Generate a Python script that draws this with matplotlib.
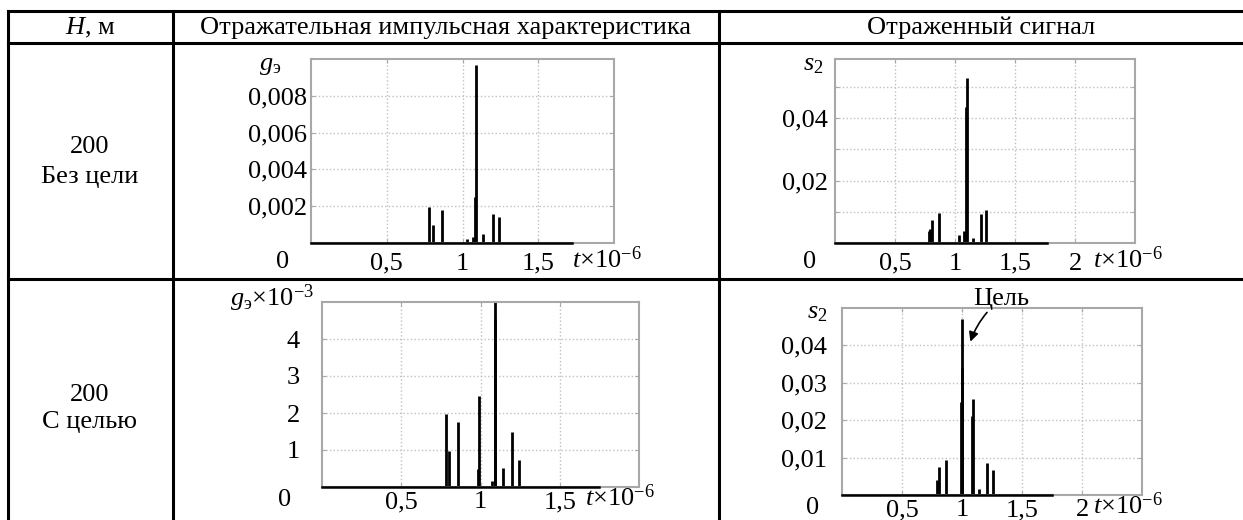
import matplotlib
matplotlib.use('Agg')
import matplotlib.pyplot as plt

plt.rcParams['font.family'] = ['Liberation Serif', 'DejaVu Serif']
plt.rcParams['font.size'] = 19
plt.rcParams['mathtext.fontset'] = 'custom'
plt.rcParams['mathtext.rm'] = 'Liberation Serif'
plt.rcParams['mathtext.it'] = 'Liberation Serif:italic'

# table texts
headers = ['$H$, м', 'Отражательная импульсная характеристика', 'Отраженный сигнал']
row_h = ['200', '200']
row_case = ['Без цели', 'С целью']

# top left: impulse response, no target (t in us)
t_g1 = [0.78, 0.805, 0.864, 1.03, 1.07, 1.082, 1.09, 1.135, 1.20, 1.24]
a_g1 = [0.00195, 0.00097, 0.0018, 0.0002, 0.0003, 0.0025, 0.0097, 0.0005, 0.00155, 0.0014]
end_g1 = 1.72

# top right: reflected signal, no target
t_s1 = [0.78, 0.795, 0.81, 0.87, 1.03, 1.075, 1.095, 1.10, 1.15, 1.215, 1.26]
a_s1 = [0.0038, 0.0045, 0.0073, 0.0096, 0.0025, 0.004, 0.0435, 0.053, 0.0015, 0.0093, 0.0105]
end_s1 = 1.77

# bottom left: impulse response with target (x1e-3)
t_g2 = [0.785, 0.80, 0.86, 0.985, 0.99, 1.075, 1.09, 1.092, 1.14, 1.20, 1.245]
a_g2 = [1.97, 0.97, 1.76, 0.5, 2.46, 0.15, 4.54, 5.0, 0.52, 1.48, 0.73]
end_g2 = 1.75

# bottom right: reflected signal with target
t_s2 = [0.79, 0.80, 0.81, 0.87, 0.995, 1.0, 1.003, 1.085, 1.09, 1.14, 1.21, 1.26]
a_s2 = [0.004, 0.003, 0.0075, 0.0093, 0.025, 0.047, 0.034, 0.021, 0.0258, 0.0015, 0.0085, 0.0067]
end_s2 = 1.75

W, H = 1243, 520
fig = plt.figure(figsize=(W / 100, H / 100), dpi=100)


def fx(x):
    return x / W


def fy(y):
    return 1 - y / H


# table grid
lw_tab = 2.2
for y in [11, 43, 279]:
    fig.add_artist(plt.Line2D([fx(8), 1], [fy(y), fy(y)], color='k', lw=lw_tab))
for x in [8, 173, 719]:
    fig.add_artist(plt.Line2D([fx(x), fx(x)], [fy(11), 0], color='k', lw=lw_tab))

fig.text(fx(90), fy(28), headers[0], ha='center', va='center')
fig.text(fx(446), fy(28), headers[1], ha='center', va='center')
fig.text(fx(981), fy(28), headers[2], ha='center', va='center')
fig.text(fx(90), fy(147), row_h[0], ha='center', va='center')
fig.text(fx(90), fy(177), row_case[0], ha='center', va='center')
fig.text(fx(90), fy(395), row_h[1], ha='center', va='center')
fig.text(fx(90), fy(422), row_case[1], ha='center', va='center')


def make_ax(l, r, t, b):
    return fig.add_axes([fx(l), fy(b), (r - l) / W, (b - t) / H])


def draw(ax, tt, aa, t_end, xmax, ymax, xticks, xlabels, yticks, ylabels, xpad, ypad):
    ax.vlines(tt, 0, aa, color='k', lw=2.0)
    ax.plot([0, t_end], [0, 0], color='k', lw=1.8, clip_on=False, zorder=5)
    ax.set_xlim(0, xmax)
    ax.set_ylim(0, ymax)
    ax.set_xticks(xticks)
    ax.set_xticklabels(xlabels)
    ax.set_yticks(yticks)
    ax.set_yticklabels(ylabels)
    ax.grid(True, color='#c0c0c0', ls=':', lw=1.0)
    for s in ax.spines.values():
        s.set_color('#a8a8a8')
        s.set_linewidth(1.5)
    ax.tick_params(direction='in', length=3, color='#a8a8a8', top=True, right=True)
    ax.tick_params(axis='x', pad=xpad)
    ax.tick_params(axis='y', pad=ypad)


ax1 = make_ax(311, 614, 59, 243)
draw(ax1, t_g1, a_g1, end_g1, 2.0, 0.01, [0.5, 1, 1.5], ['0,5', '1', '1,5'],
     [0.002, 0.004, 0.006, 0.008], ['0,002', '0,004', '0,006', '0,008'], 7, 3)

ax2 = make_ax(835, 1135, 59, 243)
draw(ax2, t_s1, a_s1, end_s1, 2.5, 0.059, [0.5, 1, 1.5, 2], ['0,5', '1', '1,5', '2'],
     [0.01, 0.02, 0.03, 0.04, 0.05], ['', '0,02', '', '0,04', ''], 7, 5)

ax3 = make_ax(322, 639, 302, 487)
draw(ax3, t_g2, a_g2, end_g2, 2.0, 5.0, [0.5, 1, 1.5], ['0,5', '1', '1,5'],
     [1, 2, 3, 4], ['1', '2', '3', '4'], 3, 16)

ax4 = make_ax(842, 1142, 308, 495)
draw(ax4, t_s2, a_s2, end_s2, 2.5, 0.05, [0.5, 1, 1.5, 2], ['0,5', '1', '1,5', '2'],
     [0.01, 0.02, 0.03, 0.04], ['0,01', '0,02', '0,03', '0,04'], 3, 11)

# axis captions
fig.text(fx(283), fy(262), '0', ha='center', va='center')
fig.text(fx(810), fy(262), '0', ha='center', va='center')
fig.text(fx(285), fy(500), '0', ha='center', va='center')
fig.text(fx(813), fy(508), '0', ha='center', va='center')
fig.text(fx(572), fy(260), r'$t{\times}10^{-6}$', ha='left', va='center')
fig.text(fx(1093), fy(260), r'$t{\times}10^{-6}$', ha='left', va='center')
fig.text(fx(585), fy(498), r'$t{\times}10^{-6}$', ha='left', va='center')
fig.text(fx(1093), fy(506), r'$t{\times}10^{-6}$', ha='left', va='center')

fig.text(fx(270), fy(66), r'$g_{\mathrm{э}}$', ha='center', va='center')
fig.text(fx(813), fy(65), r'$s_2$', ha='center', va='center')
fig.text(fx(272), fy(298), r'$g_{\mathrm{э}}{\times}10^{-3}$', ha='center', va='center')
fig.text(fx(817), fy(313), r'$s_2$', ha='center', va='center')

ax4.annotate('Цель', xy=(1.07, 0.041), xytext=(1.33, 0.0525), ha='center', va='center',
             annotation_clip=False,
             arrowprops=dict(arrowstyle='-|>', color='k', lw=1.2, mutation_scale=14,
                             connectionstyle='arc3,rad=0.15', shrinkA=0, shrinkB=0))

fig.savefig('out.png', dpi=100)
